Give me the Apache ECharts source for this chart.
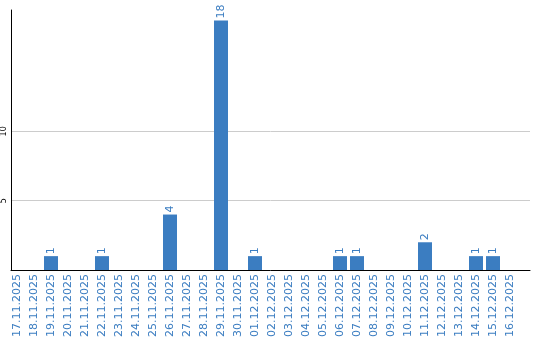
<!DOCTYPE html>
<html>
<head>
<meta charset="utf-8">
<script src="https://cdn.jsdelivr.net/npm/echarts@6/dist/echarts.min.js"></script>
<style>html,body{margin:0;padding:0;background:#fff}#c{width:540px;height:340px}</style>
</head>
<body>
<div id="c"></div>
<script>
var categories = ['17.11.2025','18.11.2025','19.11.2025','20.11.2025','21.11.2025','22.11.2025','23.11.2025','24.11.2025','25.11.2025','26.11.2025','27.11.2025','28.11.2025','29.11.2025','30.11.2025','01.12.2025','02.12.2025','03.12.2025','04.12.2025','05.12.2025','06.12.2025','07.12.2025','08.12.2025','09.12.2025','10.12.2025','11.12.2025','12.12.2025','13.12.2025','14.12.2025','15.12.2025','16.12.2025'];
var values = [0,0,1,0,0,1,0,0,0,4,0,0,18,0,1,0,0,0,0,1,1,0,0,0,2,0,0,1,1,0];
var yTickLabels = [5, 10];
var yMax = 18.75;
var yInterval = 5;

var blue = '#3b7dc1';
var chart = echarts.init(document.getElementById('c'), null, {renderer: 'canvas'});
chart.setOption({
  animation: false,
  grid: [
    {left: 11, right: 10, top: 10, bottom: 70},
    {left: 8.5, right: 21.5, top: 10, bottom: 70}
  ],
  xAxis: [
    {gridIndex: 0, type: 'value', min: 0, max: 1,
     axisLine: {show: true, lineStyle: {color: '#000', width: 1}},
     axisTick: {show: false}, axisLabel: {show: false}, splitLine: {show: false}},
    {gridIndex: 1, type: 'category', data: categories,
     axisLine: {show: false}, axisTick: {show: false},
     axisLabel: {interval: 0, rotate: 90, margin: 4, color: blue,
                 fontFamily: 'DejaVu Sans', fontSize: 11}}
  ],
  yAxis: [
    {gridIndex: 0, type: 'value', min: 0, max: yMax, interval: yInterval,
     axisLine: {show: true, lineStyle: {color: '#000', width: 1}},
     axisTick: {show: false},
     axisLabel: {rotate: 90, margin: 3, color: '#000', fontFamily: 'DejaVu Sans', fontSize: 8,
                 formatter: function (v) { return yTickLabels.indexOf(v) >= 0 ? String(v) : ''; }},
     splitLine: {show: true, lineStyle: {color: ['#cccccc','#cccccc','#cccccc','rgba(0,0,0,0)','rgba(0,0,0,0)'], width: 1}}},
    {gridIndex: 1, type: 'value', min: 0, max: yMax, show: false}
  ],
  series: [{
    type: 'bar',
    xAxisIndex: 1, yAxisIndex: 1,
    data: values,
    barWidth: 14,
    itemStyle: {color: blue},
    label: {show: true, position: 'top', rotate: 90, align: 'left', verticalAlign: 'middle',
            distance: 2, color: blue, fontFamily: 'DejaVu Sans', fontSize: 11,
            formatter: function (p) { return p.value ? String(p.value) : ''; }}
  }]
});
</script>
</body>
</html>
